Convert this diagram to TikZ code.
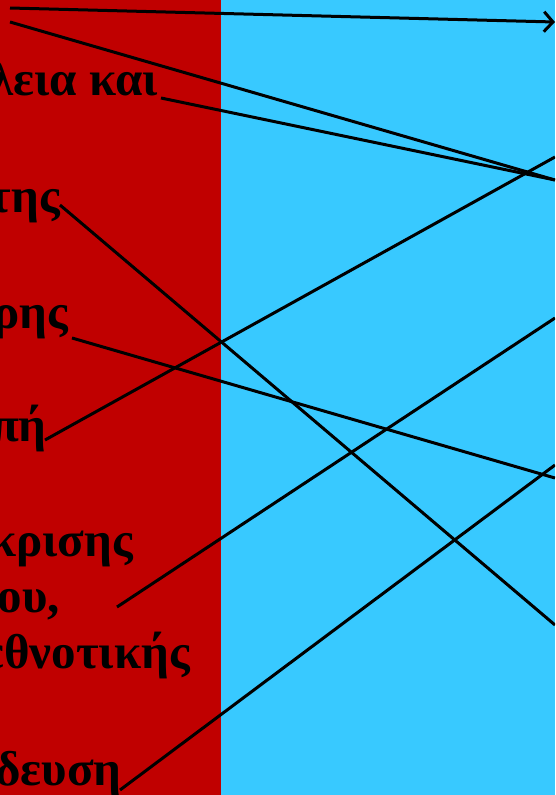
\documentclass[tikz,border=0pt]{standalone}
\usepackage{fontspec}
\setmainfont{Liberation Serif}
\usetikzlibrary{arrows.meta}
\definecolor{leftred}{RGB}{192,0,0}
\definecolor{rightblue}{RGB}{56,201,255}
\begin{document}
\begin{tikzpicture}[x=1pt,y=-1pt,
  lbl/.style={anchor=base east,inner sep=0pt,font=\fontsize{49}{56}\selectfont\bfseries},
  link/.style={draw=black,line width=3pt}]
\useasboundingbox (0,0) rectangle (555,795);
\clip (0,0) rectangle (555,795);
\fill[leftred] (0,0) rectangle (221,795);
\fill[rightblue] (221,0) rectangle (555,795);
% texts
\node[lbl] (t1) at (158,95) {λεια και};
\node[lbl] (t2) at (60,212) {της};
\node[lbl] (t3) at (68,328) {ρης};
\node[lbl] (t4) at (47,441) {πή};
\node[lbl] (t5) at (133,556) {κρισης};
\node[lbl] (t6) at (60,612) {ου,};
\node[lbl] (t7) at (190,668) {εθνοτικής};
\node[lbl] (t8) at (122,785) {ίδευση};
% endpoints
\coordinate (a1) at (10,8);
\coordinate (a2) at (10,22);
\coordinate (s1) at (161,98);
\coordinate (s2) at (60,205);
\coordinate (s3) at (72,338);
\coordinate (s4) at (45,440);
\coordinate (s5) at (117,607);
\coordinate (s6) at (120,790);
\coordinate (r1) at (555,22);
\coordinate (r2) at (555,180);
\coordinate (r3) at (555,157);
\coordinate (r4) at (555,318);
\coordinate (r5) at (555,465);
\coordinate (r6) at (555,478);
\coordinate (r7) at (555,625);
% connectors
\draw[link,-{Straight Barb[length=9pt,width=20pt,line width=3pt]}] (a1) -- (r1);
\draw[link] (a2) -- (r2);
\draw[link] (s1) -- (r2);
\draw[link] (s2) -- (r7);
\draw[link] (s3) -- (r6);
\draw[link] (s4) -- (r3);
\draw[link] (s5) -- (r4);
\draw[link] (s6) -- (r5);
\end{tikzpicture}
\end{document}
